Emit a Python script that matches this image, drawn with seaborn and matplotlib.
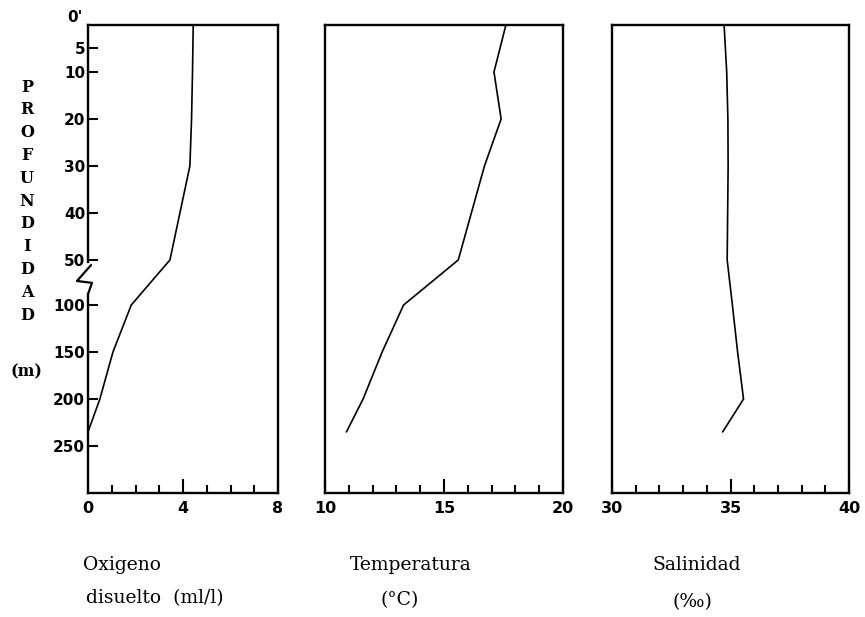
import numpy as np
import pandas as pd
import matplotlib
matplotlib.use("Agg")
import matplotlib.pyplot as plt
import seaborn as sns

# depth of samples (m)
depth = [0, 10, 20, 30, 50, 100, 150, 200, 235]
# dissolved oxygen (ml/l)
oxigeno = [4.43, 4.40, 4.36, 4.29, 3.45, 1.82, 1.05, 0.50, 0.0]
# temperature (C)
temperatura = [17.6, 17.1, 17.4, 16.7, 15.6, 13.3, 12.4, 11.6, 10.9]
# salinity (per mille)
salinidad = [34.73, 34.84, 34.89, 34.90, 34.86, 35.08, 35.30, 35.55, 34.67]

depth_ticks = [5, 10, 20, 30, 40, 50, 100, 150, 200, 250]

panels = [
    ("oxigeno", oxigeno, (0, 8), [0, 4, 8]),
    ("temperatura", temperatura, (10, 20), [10, 15, 20]),
    ("salinidad", salinidad, (30, 40), [30, 35, 40]),
]

df = pd.DataFrame({"depth": depth, "oxigeno": oxigeno,
                   "temperatura": temperatura, "salinidad": salinidad})


# broken depth axis: 0-50 m stretched, 100-300 m compressed
def fwd(d):
    d = np.asarray(d, dtype=float)
    return np.where(d <= 50, d,
                    np.where(d < 100, 50 + (d - 50) * 0.192,
                             59.6 + (d - 100) * 0.2))


def inv(u):
    u = np.asarray(u, dtype=float)
    return np.where(u <= 50, u,
                    np.where(u < 59.6, 50 + (u - 50) / 0.192,
                             100 + (u - 59.6) / 0.2))


sns.set_style("ticks", {"xtick.direction": "in", "ytick.direction": "in"})
plt.rcParams["font.family"] = ["DejaVu Sans"]
plt.rcParams["text.color"] = "black"
plt.rcParams["xtick.color"] = "black"
plt.rcParams["ytick.color"] = "black"

fig = plt.figure(figsize=(8.65, 6.17), dpi=100)
lefts = [88, 325, 612]
rights = [278, 563, 849]
top_px, bot_px = 25, 493
W, H = 865.0, 617.0

axes = []
for i, (col, vals, xlim, majors) in enumerate(panels):
    ax = fig.add_axes([lefts[i] / W, 1 - bot_px / H,
                       (rights[i] - lefts[i]) / W, (bot_px - top_px) / H])
    sns.lineplot(data=df, x=col, y="depth", sort=False, estimator=None,
                 color="black", linewidth=1.2, ax=ax)
    ax.set_yscale("function", functions=(fwd, inv))
    ax.set_ylim(300, 0)
    ax.set_xlim(*xlim)
    ax.set_xticks(majors)
    ax.set_xticks(np.arange(xlim[0], xlim[1] + 1, 1), minor=True)
    ax.set_xticklabels([str(m) for m in majors], fontsize=11.5,
                       fontweight="bold", color="black")
    ax.tick_params(axis="x", which="major", direction="in", length=10,
                   width=1.5, pad=6)
    ax.tick_params(axis="x", which="minor", direction="in", length=6,
                   width=1.5)
    ax.set_xlabel("")
    ax.set_ylabel("")
    for s in ax.spines.values():
        s.set_linewidth(1.7)
        s.set_color("black")
    ax.yaxis.set_minor_locator(matplotlib.ticker.NullLocator())
    if i == 0:
        ax.set_yticks(depth_ticks)
        ax.set_yticklabels([str(t) for t in depth_ticks], fontsize=11,
                           fontweight="bold", color="black")
        ax.tick_params(axis="y", which="major", direction="in", length=7,
                       width=1.5, pad=2)
        # surface label sits just above the frame
        ax.text(-0.03, 0, "0'", transform=ax.get_yaxis_transform(),
                ha="right", va="bottom", fontsize=11, fontweight="bold")
    else:
        ax.set_yticks([])
    axes.append(ax)

# axis break mark on the depth axis
ax0 = axes[0]
ax0.plot([0, 0], [0.43, 0.487], transform=ax0.transAxes, color="white",
         linewidth=3, clip_on=False, zorder=5)
ax0.plot([0.016, -0.058, 0.021, 0.0], [0.487, 0.453, 0.449, 0.425],
         transform=ax0.transAxes, color="black", linewidth=1.6,
         clip_on=False, zorder=6)

# vertical axis title, stacked letters
serif = ["DejaVu Serif"]
for k, ch in enumerate("PROFUNDIDAD"):
    fig.text(27 / W, 1 - (87 + k * 22.8) / H, ch, family=serif,
             fontweight="bold", fontsize=11.5, ha="center", va="center")
fig.text(26 / W, 1 - 372 / H, "(m)", family=serif, fontweight="bold",
         fontsize=11.5, ha="center", va="center")

# variable names under each panel
fs = 13.5
fig.text(83 / W, 1 - 565 / H, "Oxigeno", family=serif, fontsize=fs,
         ha="left", va="center")
fig.text(86 / W, 1 - 598 / H, "disuelto  (ml/l)", family=serif, fontsize=fs,
         ha="left", va="center")
fig.text(350 / W, 1 - 565 / H, "Temperatura", family=serif, fontsize=fs,
         ha="left", va="center")
fig.text(380 / W, 1 - 600 / H, "(°C)", family=serif, fontsize=fs,
         ha="left", va="center")
fig.text(652 / W, 1 - 565 / H, "Salinidad", family=serif, fontsize=fs,
         ha="left", va="center")
fig.text(672 / W, 1 - 602 / H, "(‰)", family=serif, fontsize=fs,
         ha="left", va="center")

plt.savefig("out.png", dpi=100)
